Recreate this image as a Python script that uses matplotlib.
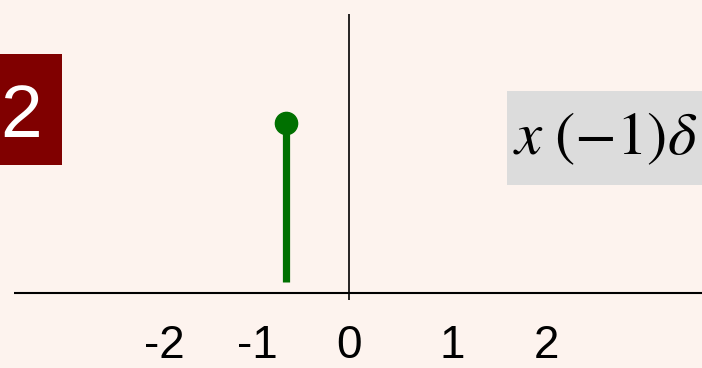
import matplotlib.pyplot as plt
from matplotlib.patches import Rectangle

# values (x in units of the axis, stem height = 1)
stem_x = [-0.66]
stem_y = [1.0]
stem_base = 0.065
tick_pos = [-1.92, -0.95, 0.0, 1.08, 2.06]
tick_labels = ['-2', '-1', '0', '1', '2']
slide_number = '2'
formula = r'$x\;(-1)\delta$'

bg = '#fdf3ee'
green = '#007000'
darkred = '#800000'
grey = '#dcdcdc'

W, H = 702, 368
x0_px, y0_px = 349, 293      # where the axes cross, in pixels
xunit, yunit = 96.0, 170.0   # pixels per unit

plt.rcParams['mathtext.fontset'] = 'stix'

fig = plt.figure(figsize=(W / 100, H / 100), dpi=100, facecolor=bg)
ax = fig.add_axes([0, 0, 1, 1])
ax.set_facecolor(bg)
xmin, xmax = -x0_px / xunit, (W - x0_px) / xunit
ymin, ymax = -(H - y0_px) / yunit, y0_px / yunit
ax.set_xlim(xmin, xmax)
ax.set_ylim(ymin, ymax)
ax.axis('off')

# the two axis lines
ax.plot([xmin + 14 / xunit, xmax], [0, 0], color='black', lw=1.5, solid_capstyle='butt')
ax.plot([0, 0], [-7 / yunit, ymax - 14 / yunit], color='black', lw=1.2, solid_capstyle='butt')

# the stem
ax.vlines(stem_x, stem_base, stem_y, color=green, lw=5.2)
ax.plot(stem_x, stem_y, 'o', color=green, ms=16, mec=green)

# tick labels
for p, lab in zip(tick_pos, tick_labels):
    ax.text(p, -(358 - y0_px) / yunit, lab, ha='center', va='baseline',
            fontsize=33, family='Liberation Sans', color='black')

# slide number box
fig.add_artist(Rectangle((0, 1 - 165 / H), 62 / W, 111 / H, transform=fig.transFigure,
                         facecolor=darkred, edgecolor='none'))
fig.text(21 / W, 1 - 137 / H, slide_number, ha='center', va='baseline',
         fontsize=54, family='Liberation Sans', color='white')

# formula box, cut by the right edge
fig.add_artist(Rectangle((507 / W, 1 - 185 / H), (W - 507) / W + 0.05, 94 / H,
                         transform=fig.transFigure, facecolor=grey, edgecolor='none'))
fig.text(513 / W, 1 - 154 / H, formula, ha='left', va='baseline',
         fontsize=44, color='black')

fig.savefig('out.png', dpi=100, facecolor=bg)
